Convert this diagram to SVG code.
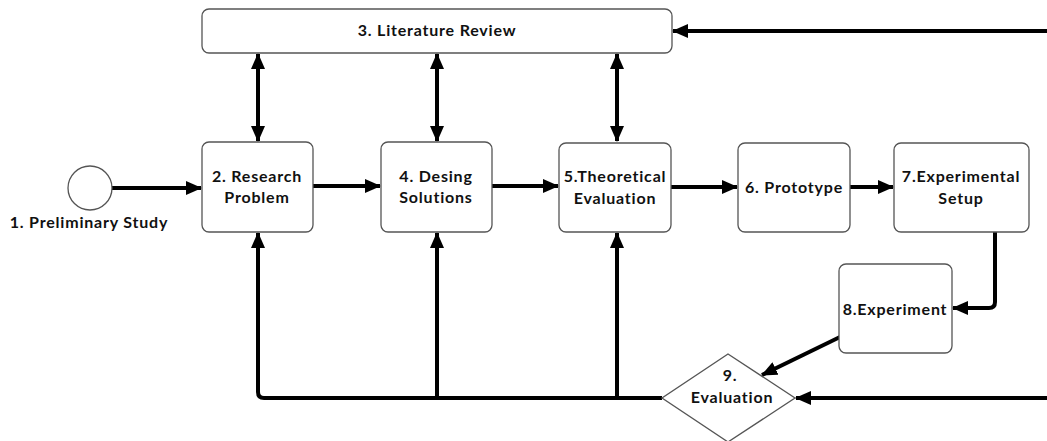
<svg xmlns="http://www.w3.org/2000/svg" width="1047" height="441" viewBox="0 0 1047 441">
  <style>
    .box { fill: #fff; stroke: #555; stroke-width: 1.3; }
    .lbl { font-family: Lato, "Liberation Sans", sans-serif; font-weight: bold; font-size: 16px; letter-spacing: 0.8px; fill: #111; text-anchor: middle; }
    .edge { fill: none; stroke: #000; stroke-width: 4; stroke-linejoin: round; }
  </style>
  <defs>
    <marker id="head" markerUnits="userSpaceOnUse" markerWidth="16" markerHeight="14" refX="15" refY="7" orient="auto">
      <path d="M0,0 L16,7 L0,14 Z" fill="#000"/>
    </marker>
    <marker id="tail" markerUnits="userSpaceOnUse" markerWidth="16" markerHeight="14" refX="1" refY="7" orient="auto">
      <path d="M16,0 L0,7 L16,14 Z" fill="#000"/>
    </marker>
  </defs>
  <rect width="1047" height="441" fill="#fff"/>

  <!-- connectors -->
  <g id="connectors">
    <path class="edge" d="M112,188 H201" marker-end="url(#head)"/>
    <path class="edge" d="M313,186 H380" marker-end="url(#head)"/>
    <path class="edge" d="M492,186 H558" marker-end="url(#head)"/>
    <path class="edge" d="M671,187 H737" marker-end="url(#head)"/>
    <path class="edge" d="M850,187 H893" marker-end="url(#head)"/>
    <!-- literature review links -->
    <path class="edge" d="M258,54 V141" marker-start="url(#tail)" marker-end="url(#head)"/>
    <path class="edge" d="M437,54 V141" marker-start="url(#tail)" marker-end="url(#head)"/>
    <path class="edge" d="M617,54 V141" marker-start="url(#tail)" marker-end="url(#head)"/>
    <path class="edge" d="M1047,31 H673" marker-end="url(#head)"/>
    <!-- experimental flow -->
    <path class="edge" d="M995,232 V302 Q995,308 989,308 H953" marker-end="url(#head)"/>
    <path class="edge" d="M840,337 L762,375" marker-end="url(#head)"/>
    <path class="edge" d="M1047,398 H796" marker-end="url(#head)"/>
    <!-- evaluation feedback -->
    <path class="edge" d="M662,398 H264 Q258,398 258,392 V233" marker-end="url(#head)"/>
    <path class="edge" d="M437,398 V233" marker-end="url(#head)"/>
    <path class="edge" d="M617,398 V233" marker-end="url(#head)"/>
  </g>

  <g id="n1">
    <circle cx="90" cy="188" r="22" fill="#fff" stroke="#555" stroke-width="1.3"/>
    <text class="lbl" x="89" y="228">1. Preliminary Study</text>
  </g>
  <g id="n2">
    <rect class="box" x="202" y="142" width="111" height="90" rx="7"/>
    <text class="lbl" x="257" y="182">2. Research</text>
    <text class="lbl" x="257" y="203">Problem</text>
  </g>
  <g id="n3">
    <rect class="box" x="202" y="9" width="470" height="44" rx="7"/>
    <text class="lbl" x="437" y="36">3. Literature Review</text>
  </g>
  <g id="n4">
    <rect class="box" x="381" y="142" width="111" height="90" rx="7"/>
    <text class="lbl" x="436" y="182">4. Desing</text>
    <text class="lbl" x="436" y="203">Solutions</text>
  </g>
  <g id="n5">
    <rect class="box" x="559" y="143" width="112" height="89" rx="7"/>
    <text class="lbl" x="615" y="182">5.Theoretical</text>
    <text class="lbl" x="615" y="204">Evaluation</text>
  </g>
  <g id="n6">
    <rect class="box" x="738" y="143" width="112" height="89" rx="7"/>
    <text class="lbl" x="794" y="193">6. Prototype</text>
  </g>
  <g id="n7">
    <rect class="box" x="894" y="143" width="135" height="89" rx="7"/>
    <text class="lbl" x="961" y="182">7.Experimental</text>
    <text class="lbl" x="961" y="204">Setup</text>
  </g>
  <g id="n8">
    <rect class="box" x="839" y="264" width="113" height="89" rx="7"/>
    <text class="lbl" x="895" y="315">8.Experiment</text>
  </g>
  <g id="n9">
    <path d="M728,354 L795,398 L728,442 L662,398 Z" fill="#fff" stroke="#555" stroke-width="1.3"/>
    <text class="lbl" x="730" y="381">9.</text>
    <text class="lbl" x="732" y="403">Evaluation</text>
  </g>
</svg>
